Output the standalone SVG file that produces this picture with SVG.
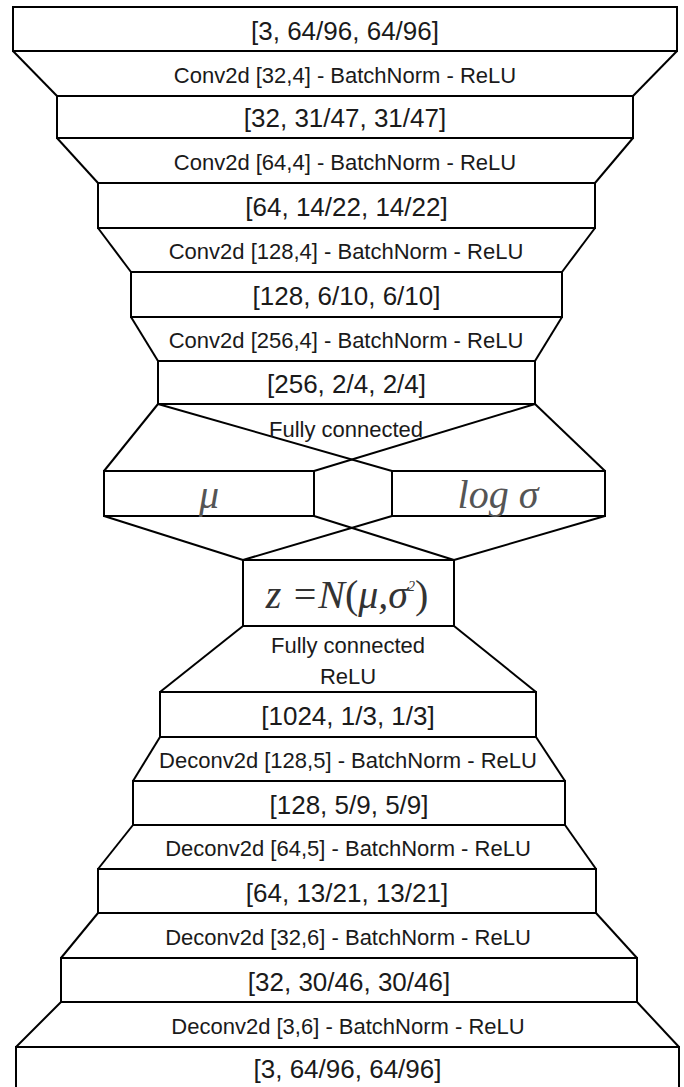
<svg xmlns="http://www.w3.org/2000/svg" width="684" height="1087" viewBox="0 0 684 1087">
<style>
.box{fill:#fff;stroke:#000;stroke-width:2}
.ln{stroke:#000;stroke-width:2;fill:none}
.bl{font-family:"Liberation Sans",Arial,sans-serif;font-size:26px;fill:#1a1a1a;text-anchor:middle}
.ll{font-family:"Liberation Sans",Arial,sans-serif;font-size:22px;fill:#1a1a1a;text-anchor:middle}
.math{font-family:"Liberation Serif","Times New Roman",serif;font-style:italic;font-size:40px;text-anchor:middle}
.up{font-style:normal}
</style>
<rect width="684" height="1087" fill="#fff"/>
<g id="connectors">
<line class="ln" x1="13" y1="51" x2="57" y2="96"/><line class="ln" x1="677" y1="51" x2="633" y2="96"/>
<line class="ln" x1="57" y1="138" x2="98" y2="183"/><line class="ln" x1="633" y1="138" x2="595" y2="183"/>
<line class="ln" x1="98" y1="228" x2="131" y2="272"/><line class="ln" x1="595" y1="228" x2="562" y2="272"/>
<line class="ln" x1="131" y1="317" x2="158" y2="361"/><line class="ln" x1="562" y1="317" x2="535" y2="361"/>
<line class="ln" x1="158" y1="404" x2="104" y2="471"/><line class="ln" x1="535" y1="404" x2="605" y2="471"/>
<line class="ln" x1="158" y1="404" x2="392" y2="471"/><line class="ln" x1="535" y1="404" x2="314" y2="471"/>
<line class="ln" x1="104" y1="516" x2="243" y2="560"/><line class="ln" x1="314" y1="516" x2="454" y2="560"/>
<line class="ln" x1="392" y1="516" x2="243" y2="560"/><line class="ln" x1="605" y1="516" x2="454" y2="560"/>
<line class="ln" x1="243" y1="626" x2="160" y2="692"/><line class="ln" x1="454" y1="626" x2="536" y2="692"/>
<line class="ln" x1="160" y1="737" x2="133" y2="781"/><line class="ln" x1="536" y1="737" x2="565" y2="781"/>
<line class="ln" x1="133" y1="825" x2="98" y2="869"/><line class="ln" x1="565" y1="825" x2="596" y2="869"/>
<line class="ln" x1="98" y1="913" x2="61" y2="958"/><line class="ln" x1="596" y1="913" x2="637" y2="958"/>
<line class="ln" x1="61" y1="1002" x2="16" y2="1047"/><line class="ln" x1="637" y1="1002" x2="679" y2="1047"/>
</g>
<g id="layer-labels">
<text class="ll" x="345" y="83">Conv2d [32,4] - BatchNorm - ReLU</text>
<text class="ll" x="345" y="170">Conv2d [64,4] - BatchNorm - ReLU</text>
<text class="ll" x="346" y="259">Conv2d [128,4] - BatchNorm - ReLU</text>
<text class="ll" x="346" y="348">Conv2d [256,4] - BatchNorm - ReLU</text>
<text class="ll" x="346" y="437">Fully connected</text>
<text class="ll" x="348" y="653">Fully connected</text>
<text class="ll" x="348" y="684">ReLU</text>
<text class="ll" x="348" y="768">Deconv2d [128,5] - BatchNorm - ReLU</text>
<text class="ll" x="348" y="856">Deconv2d [64,5] - BatchNorm - ReLU</text>
<text class="ll" x="348" y="944.5">Deconv2d [32,6] - BatchNorm - ReLU</text>
<text class="ll" x="348" y="1033.5">Deconv2d [3,6] - BatchNorm - ReLU</text>
</g>
<g id="n1"><rect class="box" x="13" y="7" width="664" height="44"/><text class="bl" x="345" y="40">[3, 64/96, 64/96]</text></g>
<g id="n2"><rect class="box" x="57" y="96" width="576" height="42"/><text class="bl" x="345" y="127">[32, 31/47, 31/47]</text></g>
<g id="n3"><rect class="box" x="98" y="183" width="497" height="45"/><text class="bl" x="346.5" y="216">[64, 14/22, 14/22]</text></g>
<g id="n4"><rect class="box" x="131" y="272" width="431" height="45"/><text class="bl" x="346.5" y="305">[128, 6/10, 6/10]</text></g>
<g id="n5"><rect class="box" x="158" y="361" width="377" height="43"/><text class="bl" x="346.5" y="393">[256, 2/4, 2/4]</text></g>
<g id="mu"><rect class="box" x="104" y="471" width="210" height="45"/><text class="math" x="209" y="508" fill="#555">μ</text></g>
<g id="logsigma"><rect class="box" x="392" y="471" width="213" height="45"/><text class="math" x="498" y="508" fill="#555">log σ</text></g>
<g id="z"><rect class="box" x="243" y="560" width="211" height="66"/><text class="math" x="347" y="608" fill="#333">z =N<tspan class="up">(</tspan>μ,σ<tspan font-size="14" dy="-17">2</tspan><tspan class="up" dy="17">)</tspan></text></g>
<g id="n6"><rect class="box" x="160" y="692" width="376" height="45"/><text class="bl" x="348" y="725">[1024, 1/3, 1/3]</text></g>
<g id="n7"><rect class="box" x="133" y="781" width="432" height="44"/><text class="bl" x="349" y="813.5">[128, 5/9, 5/9]</text></g>
<g id="n8"><rect class="box" x="98" y="869" width="498" height="44"/><text class="bl" x="347" y="901.5">[64, 13/21, 13/21]</text></g>
<g id="n9"><rect class="box" x="61" y="958" width="576" height="44"/><text class="bl" x="349" y="990.5">[32, 30/46, 30/46]</text></g>
<g id="n10"><rect class="box" x="16" y="1047" width="663" height="60"/><text class="bl" x="347.5" y="1077.5">[3, 64/96, 64/96]</text></g>
</svg>
